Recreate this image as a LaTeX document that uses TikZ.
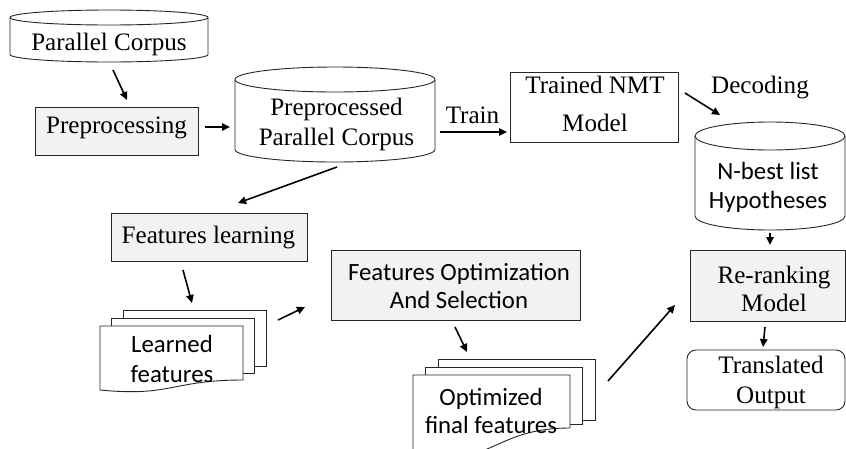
\documentclass[tikz,border=0pt]{standalone}
\usepackage{fontspec}
\setmainfont{Liberation Serif}
\newfontfamily\sansfnt{Carlito}
\usetikzlibrary{arrows.meta,calc}

\definecolor{boxgray}{HTML}{F2F2F2}
\definecolor{edge}{HTML}{262626}

\tikzset{
  shapeline/.style={draw=edge, line width=0.9pt},
  frame/.style={inner sep=0pt, outer sep=0pt},
  serif/.style={font=\fontsize{25.1}{29}\selectfont, inner sep=0pt},
  sans/.style={font=\sansfnt\fontsize{24.8}{29}\selectfont, inner sep=0pt},
  graybox/.style={shapeline, fill=boxgray, frame},
  whitebox/.style={shapeline, fill=white, frame},
  arr/.style={draw=black, line width=1.6pt, -{Triangle[length=8pt,width=7.5pt]}},
}

% cylinder: name, left, right, top, bottom, half-height of the rim ellipse
\newcommand\cylshape[6]{%
  \pgfmathsetmacro\cylcx{(#2+#3)/2}%
  \pgfmathsetmacro\cylrx{(#3-#2)/2}%
  \pgfmathsetmacro\cylct{#4+#6}%
  \pgfmathsetmacro\cylcb{#5-#6}%
  \pgfmathsetmacro\cylkx{0.5523*\cylrx}%
  \pgfmathsetmacro\cylky{0.5523*#6}%
  \pgfmathsetmacro\cylw{#3-#2}%
  \pgfmathsetmacro\cylh{#5-#4}%
  \pgfmathsetmacro\cylcy{(#4+#5)/2}%
  \draw[shapeline, fill=white] (#2,\cylct) -- (#2,\cylcb)
    .. controls (#2,\cylcb+\cylky) and (\cylcx-\cylkx,#5) .. (\cylcx,#5)
    .. controls (\cylcx+\cylkx,#5) and (#3,\cylcb+\cylky) .. (#3,\cylcb)
    -- (#3,\cylct)
    .. controls (#3,\cylct-\cylky) and (\cylcx+\cylkx,#4) .. (\cylcx,#4)
    .. controls (\cylcx-\cylkx,#4) and (#2,\cylct-\cylky) .. (#2,\cylct) -- cycle;
  \draw[shapeline] (#2,\cylct)
    .. controls (#2,\cylct+\cylky) and (\cylcx-\cylkx,\cylct+#6) .. (\cylcx,\cylct+#6)
    .. controls (\cylcx+\cylkx,\cylct+#6) and (#3,\cylct+\cylky) .. (#3,\cylct);
  \node[frame, minimum width=\cylw pt, minimum height=\cylh pt] (#1) at (\cylcx,\cylcy) {};
}

% stack of three sheets: name, left, right, top, bottom at left, bottom at right,
% dip of the wavy edge, sideways step between sheets, rise of the lower edge per sheet
\newcommand\docstack[9]{%
  \draw[shapeline, fill=white] (#2+2*#8,#4-15.5) rectangle (#3+2*#8,#6-2*#9);
  \draw[shapeline, fill=white] (#2+#8,#4-7.5) rectangle (#3+#8,#6-#9);
  \pgfmathsetmacro\docmid{(#2+#3)/2}%
  \pgfmathsetmacro\docw{#3-#2}%
  \pgfmathsetmacro\doch{#5-#4}%
  \pgfmathsetmacro\doccy{(#4+#5)/2}%
  \draw[shapeline, fill=white] (#2,#4) -- (#3,#4) -- (#3,#6)
    .. controls (\docmid,#6) and (\docmid,#6+#7) .. (#2,#5) -- cycle;
  \node[frame, minimum width=\docw pt, minimum height=\doch pt] (#1) at (\docmid,\doccy) {};
}

\begin{document}
\begin{tikzpicture}[x=1pt,y=-1pt]
\useasboundingbox (0,0) rectangle (846,448);
\clip (0,0) rectangle (846,448);

% ---- storage shapes
\cylshape{pc}{10}{208}{10}{62}{7.5}
\cylshape{ppc}{235}{435}{67}{162}{12.5}
\cylshape{nbest}{695}{845}{122}{230}{14}

% ---- processing boxes
\node[graybox, minimum width=163pt, minimum height=48pt] (prep) at (116.5,131) {};
\node[whitebox, minimum width=168pt, minimum height=70pt] (nmt) at (594,107) {};
\node[graybox, minimum width=196pt, minimum height=48pt] (fl) at (209,237) {};
\node[graybox, minimum width=249pt, minimum height=70pt] (fos) at (455.5,285) {};
\node[graybox, minimum width=155pt, minimum height=71pt] (rerank) at (767.5,285.5) {};
\node[whitebox, rounded corners=9pt, minimum width=158pt, minimum height=60pt] (out) at (766,380) {};

% ---- feature sheets
\docstack{learned}{100}{243}{326}{390}{380}{17}{11.5}{7}
\docstack{opt}{413}{570}{375}{455}{428}{42}{12.5}{4}

% ---- labels
\node[serif, anchor=base] (pc-t) at (109,50) {Parallel Corpus};
\node[serif, anchor=base] (prep-t) at (116.5,133) {Preprocessing};
\node[serif, anchor=base] (ppc-t1) at (336.5,115) {Preprocessed};
\node[serif, anchor=base] (ppc-t2) at (336.5,145) {Parallel Corpus};
\node[serif, anchor=base] (train) at (472.5,123) {Train};
\node[serif, anchor=base] (nmt-t1) at (595,93) {Trained NMT};
\node[serif, anchor=base] (nmt-t2) at (595,131) {Model};
\node[serif, anchor=base] (dec) at (760,93) {Decoding};
\node[sans, anchor=base] (nbest-t1) at (768,179) {N-best list};
\node[sans, anchor=base] (nbest-t2) at (768,208) {Hypotheses};
\node[serif, anchor=base] (rerank-t1) at (774,283) {Re-ranking};
\node[serif, anchor=base] (rerank-t2) at (774,311) {Model};
\node[serif, anchor=base] (out-t1) at (771,373) {Translated};
\node[serif, anchor=base] (out-t2) at (771,403) {Output};
\node[serif, anchor=base] (fl-t) at (208.5,243) {Features learning};
\node[sans, anchor=base] (learned-t1) at (172,352) {Learned};
\node[sans, anchor=base] (learned-t2) at (172,382) {features};
\node[sans, anchor=base] (fos-t1) at (459,280) {Features Optimization};
\node[sans, anchor=base] (fos-t2) at (459,308) {And Selection};
\node[sans, anchor=base] (opt-t1) at (491,405) {Optimized};
\node[sans, anchor=base] (opt-t2) at (491,433) {final features};

% ---- flow
\draw[arr] ($(pc.south)+(4,8)$) -- ($(prep.north)+(10.5,-7)$);
\draw[arr] ($(prep.east)+(7,-4)$) -- ($(ppc.west)+(-5,12.5)$);
\draw[arr] ($(ppc.east)+(5,17.5)$) -- ($(nmt.west)+(-3,25)$);
\draw[arr] ($(nmt.east)+(7,-14)$) -- ($(nbest.north)+(-50,-7)$);
\draw[arr] ($(ppc.south)+(2,5)$) -- ($(fl.north)+(29,-10)$);
\draw[arr] ($(nbest.south)+(0,3)$) -- ($(rerank.north)+(2.5,-5)$);
\draw[arr] ($(fl.south)+(-26,9)$) -- ($(learned.north)+(20.5,-23)$);
\draw[arr] ($(learned.east)+(35,-38)$) -- ($(fos.west)+(-26,22)$);
\draw[arr] ($(fos.south)+(-0.5,7)$) -- ($(opt.north)+(-24.5,-23)$);
\draw[arr] ($(opt.east)+(38,-34)$) -- ($(rerank.west)+(-15,19.5)$);
\draw[arr] ($(rerank.south)+(-2.5,6)$) -- ($(out.north)+(-3,-3)$);
\end{tikzpicture}
\end{document}
